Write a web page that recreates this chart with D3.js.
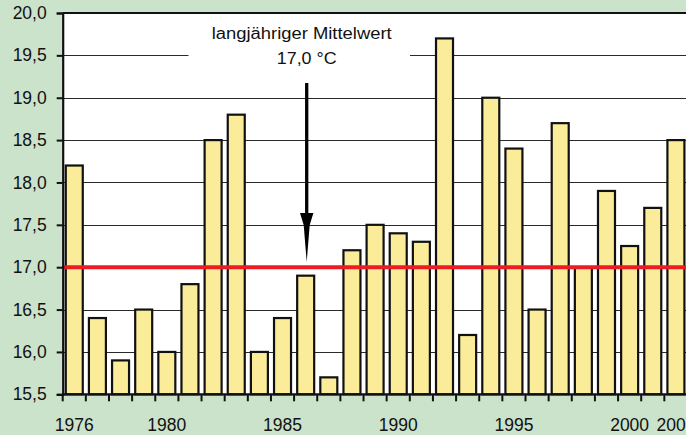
<!DOCTYPE html>
<html>
<head>
<meta charset="utf-8">
<script src="https://cdn.jsdelivr.net/npm/d3@7"></script>
<style>
  html, body { margin: 0; padding: 0; background: #cbe2cb; }
  svg { display: block; }
  text { font-family: "Liberation Sans", Arial, sans-serif; fill: #111; }
</style>
</head>
<body>
<svg id="chart" width="686" height="435"></svg>
<script>
// ---- data ----
const years = [1976,1977,1978,1979,1980,1981,1982,1983,1984,1985,1986,1987,1988,1989,
               1990,1991,1992,1993,1994,1995,1996,1997,1998,1999,2000,2001,2002];
const temps = [18.2,16.4,15.9,16.5,16.0,16.8,18.5,18.8,16.0,16.4,16.9,15.7,17.2,17.5,
               17.4,17.3,19.7,16.2,19.0,18.4,16.5,18.7,17.0,17.9,17.25,17.7,18.5];
const yTicks = [15.5,16.0,16.5,17.0,17.5,18.0,18.5,19.0,19.5,20.0];
const xLabelYears = [1976,1980,1985,1990,1995,2000,2002];
const meanValue = 17.0;
const annotationLines = ["langjähriger Mittelwert", "17,0 °C"];

// ---- layout ----
const W = 686, H = 435;
const plotLeft = 62.7, plotTop = 13, plotBottom = 394.3;
const step = 23.14;
const svg = d3.select("#chart");

const x = d3.scaleBand().domain(years).range([plotLeft, plotLeft + step * years.length]).padding(0);
const y = d3.scaleLinear().domain([15.5, 20]).range([plotBottom, plotTop]);
const locale = d3.formatLocale({decimal: ",", thousands: ".", grouping: [3], currency: ["", " €"]});
const fmt = locale.format(".1f");

// plot background
svg.append("rect").attr("x", plotLeft).attr("y", plotTop).attr("width", W - plotLeft).attr("height", plotBottom - plotTop).attr("fill", "#fff");

// gridlines
svg.append("g").selectAll("line").data(yTicks.filter(d => d > 15.5 && d < 20 && d !== meanValue))
  .join("line")
  .attr("x1", plotLeft).attr("x2", W)
  .attr("y1", d => Math.round(y(d)) + 0.5).attr("y2", d => Math.round(y(d)) + 0.5)
  .attr("stroke", "#2a2a2a").attr("stroke-width", 1);

// annotation white box (interrupts gridline)
svg.append("rect").attr("x", 188.5).attr("y", 20).attr("width", 221.5).attr("height", 52).attr("fill", "#fff");

// bars
const bw = x.bandwidth();
const inset = (bw - 17) / 2;
svg.append("g").selectAll("rect").data(years.map((yr, i) => ({yr, v: temps[i]})))
  .join("rect")
  .attr("x", d => x(d.yr) + inset)
  .attr("width", bw - 2 * inset)
  .attr("y", d => y(d.v))
  .attr("height", d => y(15.5) - y(d.v))
  .attr("fill", "#faec98")
  .attr("stroke", "#111").attr("stroke-width", 2.2);

// mean line
svg.append("line")
  .attr("x1", plotLeft).attr("x2", W)
  .attr("y1", y(meanValue)).attr("y2", y(meanValue))
  .attr("stroke", "#ed1c24").attr("stroke-width", 4);

// top border
svg.append("line").attr("x1", plotLeft).attr("x2", W).attr("y1", plotTop).attr("y2", plotTop)
  .attr("stroke", "#111").attr("stroke-width", 2);

// y axis
const yAxis = d3.axisLeft(y).tickValues(yTicks).tickFormat(fmt).tickSize(6).tickPadding(10);
const gy = svg.append("g").attr("transform", `translate(${plotLeft},0)`).call(yAxis);
gy.select(".domain").attr("stroke", "#111").attr("stroke-width", 2.2);
gy.selectAll(".tick line").attr("stroke", "#111").attr("stroke-width", 2);
gy.selectAll(".tick text").attr("font-size", "17.5px").attr("fill", "#111")
  .style("font-family", '"Liberation Sans", Arial, sans-serif');

// x axis: ticks at band boundaries
const boundaries = years.map(yr => x(yr)).concat([x(years[years.length - 1]) + bw]);
const gx = svg.append("g");
gx.append("line").attr("x1", plotLeft).attr("x2", W).attr("y1", plotBottom).attr("y2", plotBottom)
  .attr("stroke", "#111").attr("stroke-width", 2.2);
gx.selectAll("line.tk").data(boundaries).join("line").attr("class", "tk")
  .attr("x1", d => d).attr("x2", d => d).attr("y1", plotBottom).attr("y2", plotBottom + 7)
  .attr("stroke", "#111").attr("stroke-width", 2);
gx.selectAll("text").data(xLabelYears).join("text")
  .attr("x", d => x(d) + bw / 2).attr("y", 431)
  .attr("text-anchor", "middle").attr("font-size", "17.5px")
  .text(d => d);

// annotation text
svg.append("text").attr("x", 301.7).attr("y", 39.3).attr("text-anchor", "middle")
  .attr("font-size", "16px").attr("textLength", 180).attr("lengthAdjust", "spacingAndGlyphs")
  .text(annotationLines[0]);
svg.append("text").attr("x", 306.7).attr("y", 63.5).attr("text-anchor", "middle")
  .attr("font-size", "16px").attr("textLength", 60).attr("lengthAdjust", "spacingAndGlyphs")
  .text(annotationLines[1]);

// arrow
const ax = 306.7;
svg.append("line").attr("x1", ax).attr("x2", ax).attr("y1", 83).attr("y2", 218)
  .attr("stroke", "#000").attr("stroke-width", 3.3);
svg.append("path")
  .attr("d", `M${ax - 6.7},213 L${ax + 6.7},213 L${ax + 3},225 L${ax},262 L${ax - 3},225 Z`)
  .attr("fill", "#000");
</script>
</body>
</html>
